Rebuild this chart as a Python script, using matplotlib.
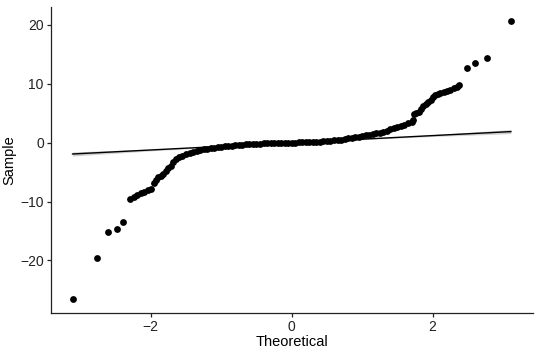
import matplotlib
matplotlib.use("Agg")
from matplotlib import pyplot as plt
import numpy as np

plt.rcParams['font.family'] = ['Liberation Sans', 'DejaVu Sans']

# Sorted sample values against theoretical normal quantiles
theoretical = [
    -3.11, -2.77, -2.60, -2.48, -2.39,
    -2.29, -2.24, -2.19, -2.14, -2.09, -2.04, -1.99, -1.96, -1.93, -1.90,
    -1.86, -1.82, -1.78, -1.75, -1.72, -1.68, -1.64, -1.60, -1.55, -1.50,
    -1.45, -1.40, -1.35, -1.30, -1.25, -1.20, -1.15, -1.10, -1.05, -1.00,
    -0.95, -0.90, -0.85, -0.80, -0.75, -0.70, -0.65, -0.60, -0.55, -0.50,
    -0.45, -0.40, -0.35, -0.30, -0.25, -0.20, -0.15, -0.10, -0.05, 0.00,
    0.05, 0.10, 0.15, 0.20, 0.25, 0.30, 0.35, 0.40, 0.45, 0.50,
    0.55, 0.60, 0.65, 0.70, 0.75, 0.80, 0.85, 0.90, 0.95, 1.00,
    1.05, 1.10, 1.15, 1.20, 1.25, 1.30, 1.35, 1.40, 1.45, 1.50,
    1.55, 1.60, 1.65, 1.70, 1.72, 1.74, 1.77, 1.80, 1.84, 1.87,
    1.90, 1.94, 1.97, 2.00, 2.03, 2.07, 2.11, 2.16, 2.20, 2.25,
    2.30, 2.34, 2.37,
    2.49, 2.60, 2.77, 3.11,
]
sample = [
    -26.5, -19.6, -15.2, -14.6, -13.4,
    -9.6, -9.3, -8.9, -8.6, -8.3, -8.1, -7.8, -6.9, -6.3, -5.8,
    -5.7, -5.4, -4.8, -4.3, -3.9, -3.3, -2.8, -2.5, -2.2, -2.0,
    -1.75, -1.55, -1.38, -1.25, -1.13, -1.03, -0.93, -0.85, -0.77, -0.70,
    -0.63, -0.56, -0.50, -0.44, -0.38, -0.33, -0.29, -0.25, -0.22, -0.19,
    -0.16, -0.13, -0.11, -0.09, -0.07, -0.05, -0.04, -0.03, -0.02, 0.00,
    0.01, 0.02, 0.04, 0.06, 0.08, 0.11, 0.14, 0.18, 0.22, 0.27,
    0.32, 0.38, 0.45, 0.52, 0.60, 0.70, 0.80, 0.92, 1.02, 1.12,
    1.22, 1.33, 1.45, 1.57, 1.70, 1.84, 2.00, 2.25, 2.50, 2.70,
    2.88, 3.05, 3.25, 3.55, 3.85, 4.90, 5.10, 5.25, 5.70, 6.20,
    6.55, 6.90, 7.30, 7.75, 8.05, 8.30, 8.50, 8.65, 8.80, 9.00,
    9.20, 9.40, 9.70,
    12.7, 13.5, 14.3, 20.7,
]

# reference line and its confidence band
line_x = [-3.11, -2.0, -1.0, 0.0, 1.0, 2.0, 3.11]
line_y = [-1.93, -1.25, -0.64, -0.03, 0.58, 1.19, 1.87]
band_hw = [0.35, 0.15, 0.07, 0.05, 0.07, 0.15, 0.35]

fig = plt.figure(figsize=(5.4, 3.56), dpi=100)
ax = fig.add_axes([0.0939, 0.1216, 0.8926, 0.8596])

lo = np.array(line_y) - np.array(band_hw)
hi = np.array(line_y) + np.array(band_hw)
ax.fill_between(line_x, lo, hi, color='#b0b0b0', alpha=0.6, linewidth=0, zorder=1)
ax.plot(line_x, line_y, color='black', linewidth=1.0, zorder=2)
ax.scatter(theoretical, sample, s=24, color='black', linewidths=0, zorder=3)

ax.set_xlim(-3.42, 3.42)
ax.set_ylim(-28.86, 23.06)
ax.set_xticks([-2, 0, 2])
ax.set_yticks([-20, -10, 0, 10, 20])

for side in ['top', 'right']:
    ax.spines[side].set_visible(False)
for side in ['left', 'bottom']:
    ax.spines[side].set_linewidth(0.9)
    ax.spines[side].set_color('#222222')
ax.tick_params(length=3, width=0.9, color='#222222', labelsize=10, labelcolor='#222222', pad=2)

ax.set_xlabel('Theoretical', fontsize=10.5, labelpad=1)
ax.set_ylabel('Sample', fontsize=10.5, labelpad=3)

fig.savefig('out.png', dpi=100)
